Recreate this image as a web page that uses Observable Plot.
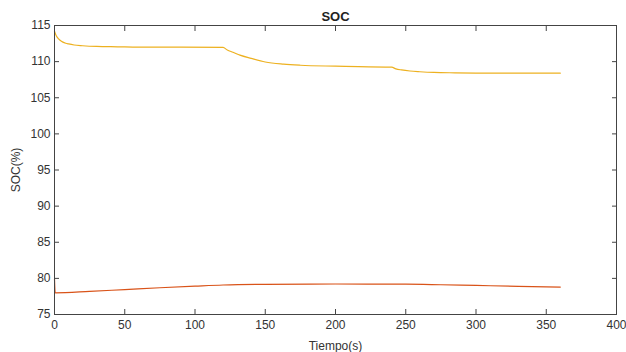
<!DOCTYPE html>
<html>
<head>
<meta charset="utf-8">
<script src="https://cdn.jsdelivr.net/npm/d3@7"></script>
<script src="https://cdn.jsdelivr.net/npm/@observablehq/plot@0.6"></script>
<style>
  html, body { margin: 0; padding: 0; background: #fff; }
</style>
</head>
<body>
<div id="chart"></div>
<script>
// Series 1 (yellow)
const timeA = [0, 1, 2, 4, 6, 8, 10, 14, 20, 30, 45, 60, 90, 120, 123, 127, 132, 140, 150, 163, 175, 200, 240, 243, 247, 253, 260, 270, 285, 300, 330, 360];
const socA  = [114.2, 113.7, 113.35, 112.95, 112.7, 112.55, 112.45, 112.3, 112.2, 112.1, 112.05, 112.0, 112.0, 111.97, 111.6, 111.3, 110.9, 110.45, 109.95, 109.65, 109.5, 109.37, 109.23, 109.0, 108.85, 108.7, 108.6, 108.5, 108.45, 108.42, 108.4, 108.4];
// Series 2 (red)
const timeB = [0, 0.5, 25, 50, 75, 100, 120, 150, 200, 250, 275, 300, 330, 360];
const socB  = [79.9, 78.0, 78.2, 78.45, 78.7, 78.92, 79.08, 79.18, 79.22, 79.2, 79.12, 79.02, 78.9, 78.8];

const xTicks = [0, 50, 100, 150, 200, 250, 300, 350, 400];
const yTicks = [75, 80, 85, 90, 95, 100, 105, 110, 115];

const seriesA = timeA.map((t, i) => ({t, v: socA[i]}));
const seriesB = timeB.map((t, i) => ({t, v: socB[i]}));

const axisColor = "#444";

const chart = Plot.plot({
  width: 626,
  height: 352,
  marginLeft: 54,
  marginRight: 10,
  marginTop: 25,
  marginBottom: 38,
  style: {fontFamily: "'Liberation Sans', Arial, sans-serif", fontSize: "12px", color: "#333", background: "#fff"},
  x: {domain: [0, 400]},
  y: {domain: [75, 115]},
  marks: [
    Plot.line(seriesA, {x: "t", y: "v", stroke: "#EDB120", strokeWidth: 1.2, curve: "monotone-x"}),
    Plot.line(seriesB, {x: "t", y: "v", stroke: "#D95319", strokeWidth: 1.2, curve: "monotone-x"}),
    Plot.frame({stroke: axisColor, strokeWidth: 1}),
    Plot.axisX({anchor: "bottom", ticks: xTicks, tickSize: -5, tickPadding: 11, stroke: axisColor, fill: "#333",
      label: "Tiempo(s)", labelAnchor: "center", labelOffset: 35, labelArrow: "none", fontSize: 12}),
    Plot.axisX({anchor: "top", ticks: xTicks, tickSize: -5, tickFormat: () => "", stroke: axisColor, label: null}),
    Plot.axisY({anchor: "left", ticks: yTicks, tickSize: -5, tickPadding: 9, stroke: axisColor, fill: "#333", fontSize: 12,
      label: "SOC(%)", labelAnchor: "center", labelOffset: 43, labelArrow: "none"}),
    Plot.axisY({anchor: "right", ticks: yTicks, tickSize: -5, tickFormat: () => "", stroke: axisColor, label: null}),
    Plot.text(["SOC"], {frameAnchor: "top", lineAnchor: "middle", dy: -9, fontWeight: "bold", fontSize: 13, fill: "#222"})
  ]
});

document.getElementById("chart").appendChild(chart);
</script>
</body>
</html>
